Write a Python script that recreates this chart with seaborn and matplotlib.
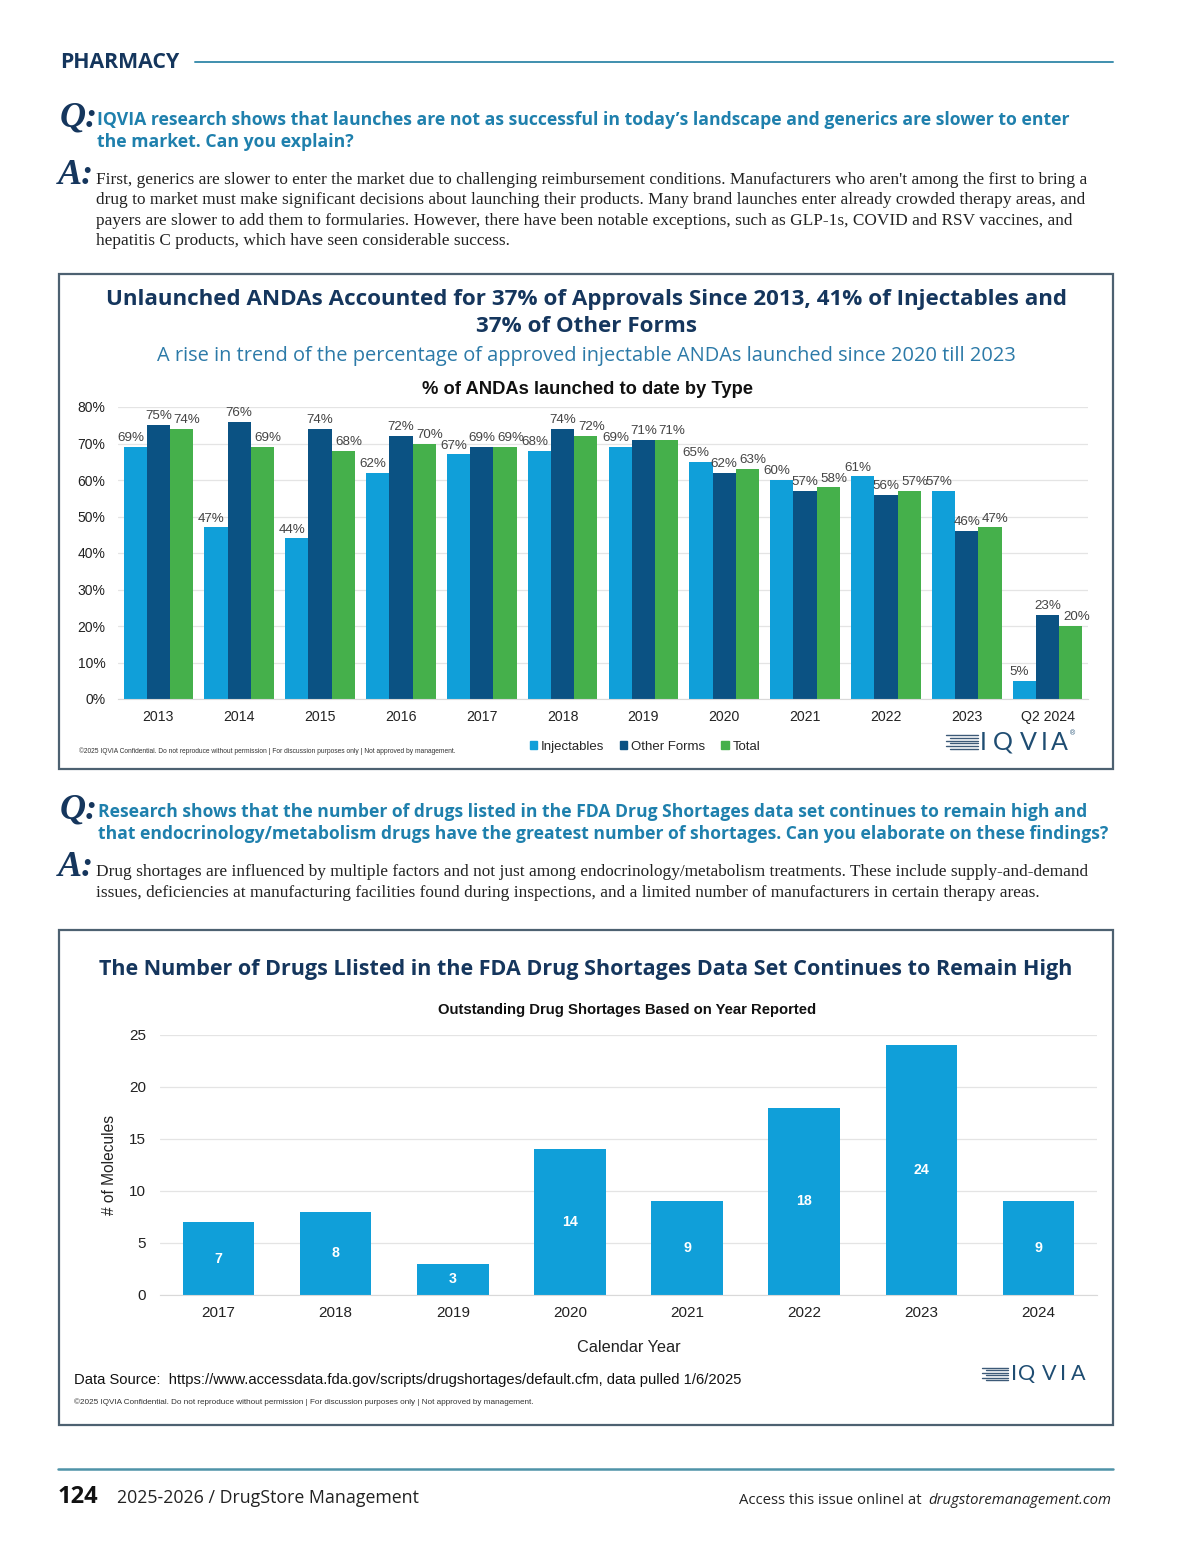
"""Recreate the IQVIA pharmacy page with two bar charts."""

import matplotlib
matplotlib.use('Agg')
import matplotlib.pyplot as plt
from matplotlib.patches import Rectangle, Patch
from matplotlib.lines import Line2D
import pandas as pd
import seaborn as sns

# chart 1 data
years_1 = ['2013', '2014', '2015', '2016', '2017', '2018', '2019', '2020',
           '2021', '2022', '2023', 'Q2 2024']
injectables = [69, 47, 44, 62, 67, 68, 69, 65, 60, 61, 57, 5]
other_forms = [75, 76, 74, 72, 69, 74, 71, 62, 57, 56, 46, 23]
total = [74, 69, 68, 70, 69, 72, 71, 63, 58, 57, 47, 20]
types = ['Injectables', 'Other Forms', 'Total']

# chart 2 data
years_2 = ['2017', '2018', '2019', '2020', '2021', '2022', '2023', '2024']
shortages = [7, 8, 3, 14, 9, 18, 24, 9]

LIGHT = '#109fd9'
DARK = '#0b5283'
GREEN = '#45b04b'
NAVY = '#15365d'
TEAL = '#1f80ad'
LOGO = '#1f4d72'
W, H = 1200, 1553

sns.set_style('white')
plt.rcParams['font.family'] = ['Liberation Sans', 'DejaVu Sans']

fig = plt.figure(figsize=(W / 100, H / 100), dpi=100)


def fx(x):
    return x / W


def fy(y):
    return 1 - y / H


def text(x, y, s, **kw):
    kw.setdefault('va', 'center')
    return fig.text(fx(x), fy(y), s, **kw)


def hline(x0, x1, y, color, lw):
    fig.add_artist(Line2D([fx(x0), fx(x1)], [fy(y), fy(y)], color=color, lw=lw,
                          transform=fig.transFigure))


def box(x0, y0, x1, y1):
    fig.add_artist(Rectangle((fx(x0), fy(y1)), fx(x1) - fx(x0), fy(y0) - fy(y1),
                             fill=False, edgecolor='#4d6171', lw=1.6,
                             transform=fig.transFigure))


def logo(x0, x1, y, cap, size, letter_x, reg=None):
    # striped mark on the left, then the spaced out IQVIA wordmark
    for i in range(6):
        dy = (i - 2.5) * cap / 5.5
        hline(x0 + (i % 2) * 4, x1, y + dy, '#3d5a78', 1.0)
    for ch, lx in zip('IQVIA', letter_x):
        text(lx, y, ch, fontsize=size, color=LOGO, ha='center',
             family=['Lato', 'DejaVu Sans'])
    if reg:
        text(reg[0], reg[1], '\u00ae', fontsize=5, color=LOGO)


sans = ['Open Sans', 'DejaVu Sans']
serif = ['Liberation Serif', 'DejaVu Serif']

# page header
text(60, 62, 'PHARMACY', fontsize=15.3, fontweight='bold', color=NAVY, family=sans)
hline(195, 1113, 62, '#3f8fae', 1.4)

# question / answer 1
text(60, 118, 'Q:', fontsize=26, fontweight='bold', style='italic', color=NAVY, family=serif)
text(97, 120, 'IQVIA research shows that launches are not as successful in today\u2019s '
     'landscape and generics are slower to enter', fontsize=12.7, fontweight='bold',
     color=TEAL, family=sans)
text(97, 142, 'the market. Can you explain?', fontsize=12.7, fontweight='bold',
     color=TEAL, family=sans)
text(58, 175, 'A:', fontsize=26, fontweight='bold', style='italic', color=NAVY, family=serif)
answer_1 = [
    "First, generics are slower to enter the market due to challenging reimbursement "
    "conditions. Manufacturers who aren't among the first to bring a",
    "drug to market must make significant decisions about launching their products. "
    "Many brand launches enter already crowded therapy areas, and",
    "payers are slower to add them to formularies. However, there have been notable "
    "exceptions, such as GLP-1s, COVID and RSV vaccines, and",
    "hepatitis C products, which have seen considerable success.",
]
for i, line in enumerate(answer_1):
    text(96, 180 + i * 20.4, line, fontsize=12.45, color='#222222', family=serif)

# chart 1 box and titles
box(59, 274, 1113, 769)
text(586, 299, 'Unlaunched ANDAs Accounted for 37% of Approvals Since 2013, 41% of '
     'Injectables and', fontsize=16.1, fontweight='bold', color=NAVY, ha='center',
     family=sans)
text(586, 326, '37% of Other Forms', fontsize=16.1, fontweight='bold', color=NAVY,
     ha='center', family=sans)
text(586, 356, 'A rise in trend of the percentage of approved injectable ANDAs launched '
     'since 2020 till 2023', fontsize=14.4, color='#2c7aa8', ha='center', family=sans)
text(588, 390, '% of ANDAs launched to date by Type', fontsize=13.2, fontweight='bold',
     color='#111111', ha='center')

df1 = pd.DataFrame({
    'year': years_1 * 3,
    'type': [t for t in types for _ in years_1],
    'value': injectables + other_forms + total,
})

ax1 = fig.add_axes([fx(118), fy(699), fx(1088) - fx(118), fy(407) - fy(699)])
sns.barplot(data=df1, x='year', y='value', hue='type', hue_order=types,
            palette=[LIGHT, DARK, GREEN], width=0.86, saturation=1, ax=ax1,
            legend=False, edgecolor='none')
ax1.set_ylim(0, 80)
ax1.set_yticks(range(0, 81, 10))
ax1.set_yticklabels([f'{v}%' for v in range(0, 81, 10)])
ax1.yaxis.grid(True, color='#e4e4e4', lw=0.9)
ax1.set_axisbelow(True)
for side in ['top', 'right', 'left']:
    ax1.spines[side].set_visible(False)
ax1.spines['bottom'].set_color('#d9d9d9')
ax1.tick_params(axis='y', length=0, labelsize=10, colors='#222222', pad=9)
ax1.tick_params(axis='x', length=0, labelsize=10.2, colors='#222222', pad=8)
ax1.set_xlabel('')
ax1.set_ylabel('')
# nudge the side labels apart (offset points) so neighbours overlap less
for container, shift in zip(ax1.containers, [-3.5, 0, 4]):
    for lab in ax1.bar_label(container, fmt='{:.0f}%', padding=2, fontsize=9.6,
                             color='#444444', clip_on=False):
        lab.xyann = (shift, lab.xyann[1])

handles = [Patch(color=c, label=t) for c, t in zip([LIGHT, DARK, GREEN], types)]
fig.legend(handles=handles, loc='center', bbox_to_anchor=(fx(645), fy(747)), ncol=3,
           frameon=False, fontsize=9.5, handlelength=0.55, handleheight=0.55,
           handletextpad=0.3, columnspacing=1.2)
text(79, 751, '\u00a92025 IQVIA Confidential. Do not reproduce without permission | '
     'For discussion purposes only | Not approved by management.', fontsize=4.8,
     color='#333333')
logo(946, 978, 742, 15, 18, [983, 1003, 1028, 1044, 1059], reg=(1070, 734))

# question / answer 2
text(60, 810, 'Q:', fontsize=26, fontweight='bold', style='italic', color=NAVY, family=serif)
text(98, 812, 'Research shows that the number of drugs listed in the FDA Drug Shortages '
     'data set continues to remain high and', fontsize=12.6, fontweight='bold',
     color=TEAL, family=sans)
text(98, 834, 'that endocrinology/metabolism drugs have the greatest number of shortages. '
     'Can you elaborate on these findings?', fontsize=12.6, fontweight='bold',
     color=TEAL, family=sans)
text(58, 868, 'A:', fontsize=26, fontweight='bold', style='italic', color=NAVY, family=serif)
text(96, 872, 'Drug shortages are influenced by multiple factors and not just among '
     'endocrinology/metabolism treatments. These include supply-and-demand',
     fontsize=12.45, color='#222222', family=serif)
text(96, 893, 'issues, deficiencies at manufacturing facilities found during inspections, '
     'and a limited number of manufacturers in certain therapy areas.',
     fontsize=12.45, color='#222222', family=serif)

# chart 2 box and titles
box(59, 930, 1113, 1425)
text(586, 969, 'The Number of Drugs Llisted in the FDA Drug Shortages Data Set Continues '
     'to Remain High', fontsize=15.5, fontweight='bold', color=NAVY, ha='center',
     family=sans)
text(627, 1010, 'Outstanding Drug Shortages Based on Year Reported', fontsize=10.7,
     fontweight='bold', color='#111111', ha='center')

ax2 = fig.add_axes([fx(160), fy(1295), fx(1097) - fx(160), fy(1035) - fy(1295)])
sns.barplot(x=years_2, y=shortages, color=LIGHT, width=0.61, saturation=1, ax=ax2,
            edgecolor='none')
ax2.set_ylim(0, 25)
ax2.set_yticks(range(0, 26, 5))
ax2.yaxis.grid(True, color='#e4e4e4', lw=0.9)
ax2.set_axisbelow(True)
for side in ['top', 'right', 'left']:
    ax2.spines[side].set_visible(False)
ax2.spines['bottom'].set_color('#d9d9d9')
ax2.tick_params(axis='y', length=0, labelsize=11, colors='#222222', pad=10)
ax2.tick_params(axis='x', length=0, labelsize=11, colors='#222222', pad=8)
ax2.set_xlabel('Calendar Year', fontsize=11.7, color='#222222', labelpad=14)
ax2.set_ylabel('# of Molecules', fontsize=11.2, color='#222222', labelpad=9)
ax2.bar_label(ax2.containers[0], label_type='center', color='white',
              fontweight='bold', fontsize=10.2)

text(74, 1380, 'Data Source:  https://www.accessdata.fda.gov/scripts/drugshortages/'
     'default.cfm, data pulled 1/6/2025', fontsize=10.6, color='#111111')
text(74, 1402, '\u00a92025 IQVIA Confidential. Do not reproduce without permission | '
     'For discussion purposes only | Not approved by management.', fontsize=5.85,
     color='#333333')
logo(982, 1008, 1374, 13, 15.5, [1014, 1027, 1049, 1063, 1078])

# footer
hline(58, 1113, 1469, '#4f93a8', 1.8)
text(58, 1497, '124', fontsize=17, fontweight='bold', color='#111111', family=sans)
text(117, 1498, '2025-2026 / DrugStore Management', fontsize=12.8, color='#222222',
     family=sans)
text(1111, 1501, 'drugstoremanagement.com', fontsize=10.7, color='#222222',
     family=sans, style='italic', ha='right')
text(922, 1501, 'Access this issue online! at', fontsize=10.7, color='#222222',
     family=sans, ha='right')

plt.savefig('out.png', dpi=100)
